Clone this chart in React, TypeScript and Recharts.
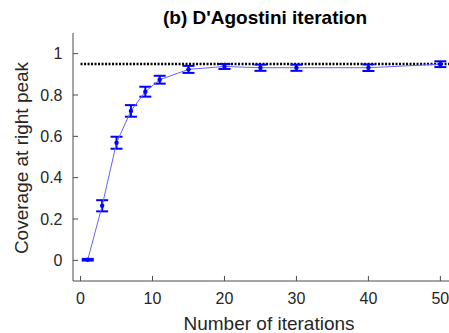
import React from "react";
import { LineChart, Line, XAxis, YAxis, ErrorBar, ReferenceLine } from "recharts";

const iterations = [1, 3, 5, 7, 9, 11, 15, 20, 25, 30, 40, 50];
const coverage = [0.003, 0.264, 0.569, 0.723, 0.816, 0.874, 0.924, 0.938, 0.932, 0.932, 0.932, 0.949];
const coverageErr = [0.004, 0.027, 0.029, 0.028, 0.024, 0.019, 0.017, 0.012, 0.015, 0.015, 0.016, 0.014];
const xTicks = [0, 10, 20, 30, 40, 50];
const yTicks = [0, 0.2, 0.4, 0.6, 0.8, 1];
const nominalCoverage = 0.95;
const xDomain = [-1.05, 51.2];
const yDomain = [-0.1, 1.1];

const data = iterations.map((it, i) => ({ it, y: coverage[i], err: coverageErr[i] }));

const FONT = "'Liberation Sans', Arial, Helvetica, sans-serif";
const AXIS = "#4a4a4a";

export default function App() {
  return (
    <div style={{ position: "relative", width: 441, height: 325, marginLeft: 8, marginTop: 8, fontFamily: FONT }}>
      <style>{`html { overflow: hidden; } body { margin: 0; }`}</style>
      <LineChart
        width={441}
        height={325}
        data={data}
        margin={{ top: 25, right: 0, bottom: 0, left: 0 }}
      >
        <XAxis
          xAxisId="top"
          orientation="top"
          dataKey="it"
          type="number"
          domain={xDomain}
          allowDataOverflow
          ticks={xTicks}
          height={0}
          tick={false}
          tickSize={-5}
          stroke="#9a9a9a"
          tickLine={{ stroke: AXIS }}
        />
        <XAxis
          dataKey="it"
          type="number"
          domain={xDomain}
          allowDataOverflow
          ticks={xTicks}
          height={52}
          tickSize={-5}
          tickMargin={17}
          stroke={AXIS}
          tick={{ fill: "#262626", fontSize: 16, fontFamily: FONT }}
        />
        <YAxis
          type="number"
          domain={yDomain}
          allowDataOverflow
          ticks={yTicks}
          width={65}
          tickSize={-5}
          tickMargin={15.5}
          stroke={AXIS}
          tick={{ fill: "#262626", fontSize: 16, fontFamily: FONT }}
        />
        <ReferenceLine
          segment={[
            { x: xTicks[0], y: nominalCoverage },
            { x: xDomain[1], y: nominalCoverage },
          ]}
          stroke="#000"
          strokeWidth={2.4}
          strokeDasharray="2 1.5"
        />
        <Line
          dataKey="y"
          stroke="#6464ff"
          strokeWidth={1}
          isAnimationActive={false}
          dot={{ r: 2.2, fill: "#0000ff", stroke: "none" }}
          activeDot={false}
        >
          <ErrorBar dataKey="err" direction="y" width={6} strokeWidth={2} stroke="#0000ff" isAnimationActive={false} />
        </Line>
      </LineChart>
      <div
        style={{
          position: "absolute",
          left: 257,
          top: 0,
          transform: "translateX(-50%)",
          fontSize: 19,
          fontWeight: "bold",
          lineHeight: "19px",
          whiteSpace: "nowrap",
          color: "#000",
        }}
      >
        (b) D'Agostini iteration
      </div>
      <div
        style={{
          position: "absolute",
          left: 261,
          top: 306,
          transform: "translateX(-50%)",
          fontSize: 19,
          lineHeight: "19px",
          whiteSpace: "nowrap",
          color: "#262626",
        }}
      >
        Number of iterations
      </div>
      <div
        style={{
          position: "absolute",
          left: 13.7,
          top: 150.3,
          transform: "translate(-50%, -50%) rotate(-90deg)",
          fontSize: 19,
          whiteSpace: "nowrap",
          color: "#262626",
        }}
      >
        Coverage at right peak
      </div>
    </div>
  );
}
